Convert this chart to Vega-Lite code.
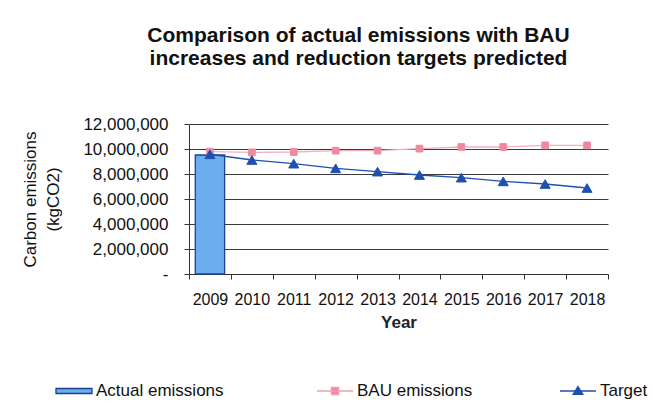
{
  "$schema": "https://vega.github.io/schema/vega-lite/v6.json",
  "width": 419,
  "height": 150,
  "autosize": {"type": "none"},
  "padding": {"left": 189, "top": 124, "right": 45, "bottom": 129},
  "background": "white",
  "config": {
    "font": "Liberation Sans",
    "view": {"stroke": null},
    "legend": {
      "title": null,
      "orient": "none",
      "padding": 0,
      "labelFontSize": 17,
      "labelColor": "#111111",
      "labelOffset": 3,
      "symbolSize": 1296,
      "symbolStrokeWidth": 1.3,
      "symbolOpacity": 1
    }
  },
  "title": {
    "text": ["Comparison of actual emissions with BAU", "increases and reduction targets predicted"],
    "font": "Liberation Sans",
    "fontSize": 21,
    "fontWeight": "bold",
    "color": "#111111",
    "anchor": "middle",
    "dx": -40,
    "lineHeight": 23,
    "offset": 46
  },
  "data": {
    "values": [
      {"year": "2009", "series": "Actual emissions", "value": 9520000},
      {"year": "2009", "series": "BAU emissions", "value": 9790000},
      {"year": "2010", "series": "BAU emissions", "value": 9730000},
      {"year": "2011", "series": "BAU emissions", "value": 9760000},
      {"year": "2012", "series": "BAU emissions", "value": 9870000},
      {"year": "2013", "series": "BAU emissions", "value": 9870000},
      {"year": "2014", "series": "BAU emissions", "value": 10030000},
      {"year": "2015", "series": "BAU emissions", "value": 10160000},
      {"year": "2016", "series": "BAU emissions", "value": 10160000},
      {"year": "2017", "series": "BAU emissions", "value": 10290000},
      {"year": "2018", "series": "BAU emissions", "value": 10290000},
      {"year": "2009", "series": "Target", "value": 9580000},
      {"year": "2010", "series": "Target", "value": 9120000},
      {"year": "2011", "series": "Target", "value": 8830000},
      {"year": "2012", "series": "Target", "value": 8450000},
      {"year": "2013", "series": "Target", "value": 8190000},
      {"year": "2014", "series": "Target", "value": 7920000},
      {"year": "2015", "series": "Target", "value": 7710000},
      {"year": "2016", "series": "Target", "value": 7410000},
      {"year": "2017", "series": "Target", "value": 7200000},
      {"year": "2018", "series": "Target", "value": 6880000}
    ]
  },
  "encoding": {
    "x": {
      "field": "year",
      "type": "ordinal",
      "scale": {"paddingInner": 0, "paddingOuter": 0},
      "axis": {
        "title": "Year",
        "titleFontSize": 17,
        "titleFontWeight": "bold",
        "titleColor": "#222222",
        "titleDx": -22,
        "titlePadding": 7,
        "labelAngle": 0,
        "labelFontSize": 16,
        "labelColor": "#111111",
        "labelPadding": 12,
        "tickBand": "extent",
        "tickSize": 5,
        "tickColor": "#333333",
        "domainColor": "#333333",
        "grid": false
      }
    },
    "y": {
      "field": "value",
      "type": "quantitative",
      "scale": {"domain": [0, 12000000]},
      "axis": {
        "values": [0, 2000000, 4000000, 6000000, 8000000, 10000000, 12000000],
        "labelExpr": "datum.value == 0 ? '-' : format(datum.value, ',')",
        "labelFontSize": 17,
        "labelColor": "#111111",
        "labelPadding": 16,
        "tickSize": 5,
        "tickColor": "#333333",
        "domainColor": "#333333",
        "grid": true,
        "gridColor": "#3a3a3a",
        "gridWidth": 1.2,
        "title": ["Carbon emissions", "(kgCO2)"],
        "titleFontSize": 17,
        "titleFontWeight": "normal",
        "titleColor": "#111111",
        "titleLineHeight": 23,
        "titlePadding": 20
      }
    }
  },
  "resolve": {"scale": {"color": "independent"}, "legend": {"color": "independent"}},
  "layer": [
    {
      "transform": [{"filter": "datum.series === 'Actual emissions'"}],
      "mark": {"type": "bar", "width": {"band": 0.7}, "stroke": "#1f3f8f", "strokeWidth": 1.3},
      "encoding": {
        "color": {
          "field": "series",
          "type": "nominal",
          "scale": {"domain": ["Actual emissions"], "range": ["#6aaef0"]},
          "legend": {
            "legendX": -134,
            "legendY": 248,
            "symbolType": "M-1,-0.14H1V0.14H-1Z",
            "symbolStrokeColor": "#1f3f8f"
          }
        }
      }
    },
    {
      "transform": [{"filter": "datum.series === 'BAU emissions'"}],
      "mark": {"type": "line", "strokeWidth": 1.3},
      "encoding": {
        "color": {
          "field": "series",
          "type": "nominal",
          "scale": {"domain": ["BAU emissions"], "range": ["#f4b0bc"]},
          "legend": null
        }
      }
    },
    {
      "transform": [{"filter": "datum.series === 'BAU emissions'"}],
      "mark": {"type": "point", "filled": true, "opacity": 1, "shape": "square", "size": 45, "stroke": "#ee8aa0", "strokeWidth": 1},
      "encoding": {
        "color": {
          "field": "series",
          "type": "nominal",
          "scale": {"domain": ["BAU emissions"], "range": ["#ee8aa0"]},
          "legend": {
            "legendX": 127,
            "legendY": 248,
            "symbolType": "M-1,0H1M-0.2,-0.2H0.2V0.2H-0.2Z",
            "symbolStrokeColor": "#f0a0b0"
          }
        }
      }
    },
    {
      "transform": [{"filter": "datum.series === 'Target'"}],
      "mark": {"type": "line", "strokeWidth": 1.3},
      "encoding": {
        "color": {
          "field": "series",
          "type": "nominal",
          "scale": {"domain": ["Target"], "range": ["#1f4fb0"]},
          "legend": null
        }
      }
    },
    {
      "transform": [{"filter": "datum.series === 'Target'"}],
      "mark": {"type": "point", "filled": true, "opacity": 1, "shape": "triangle-up", "size": 100, "stroke": "#1f4fb0", "strokeWidth": 1},
      "encoding": {
        "color": {
          "field": "series",
          "type": "nominal",
          "scale": {"domain": ["Target"], "range": ["#1f4fb0"]},
          "legend": {
            "legendX": 370,
            "legendY": 248,
            "symbolType": "M-1,0H1M0,-0.25L0.27,0.18H-0.27Z",
            "symbolStrokeColor": "#1f4fb0"
          }
        }
      }
    }
  ]
}
